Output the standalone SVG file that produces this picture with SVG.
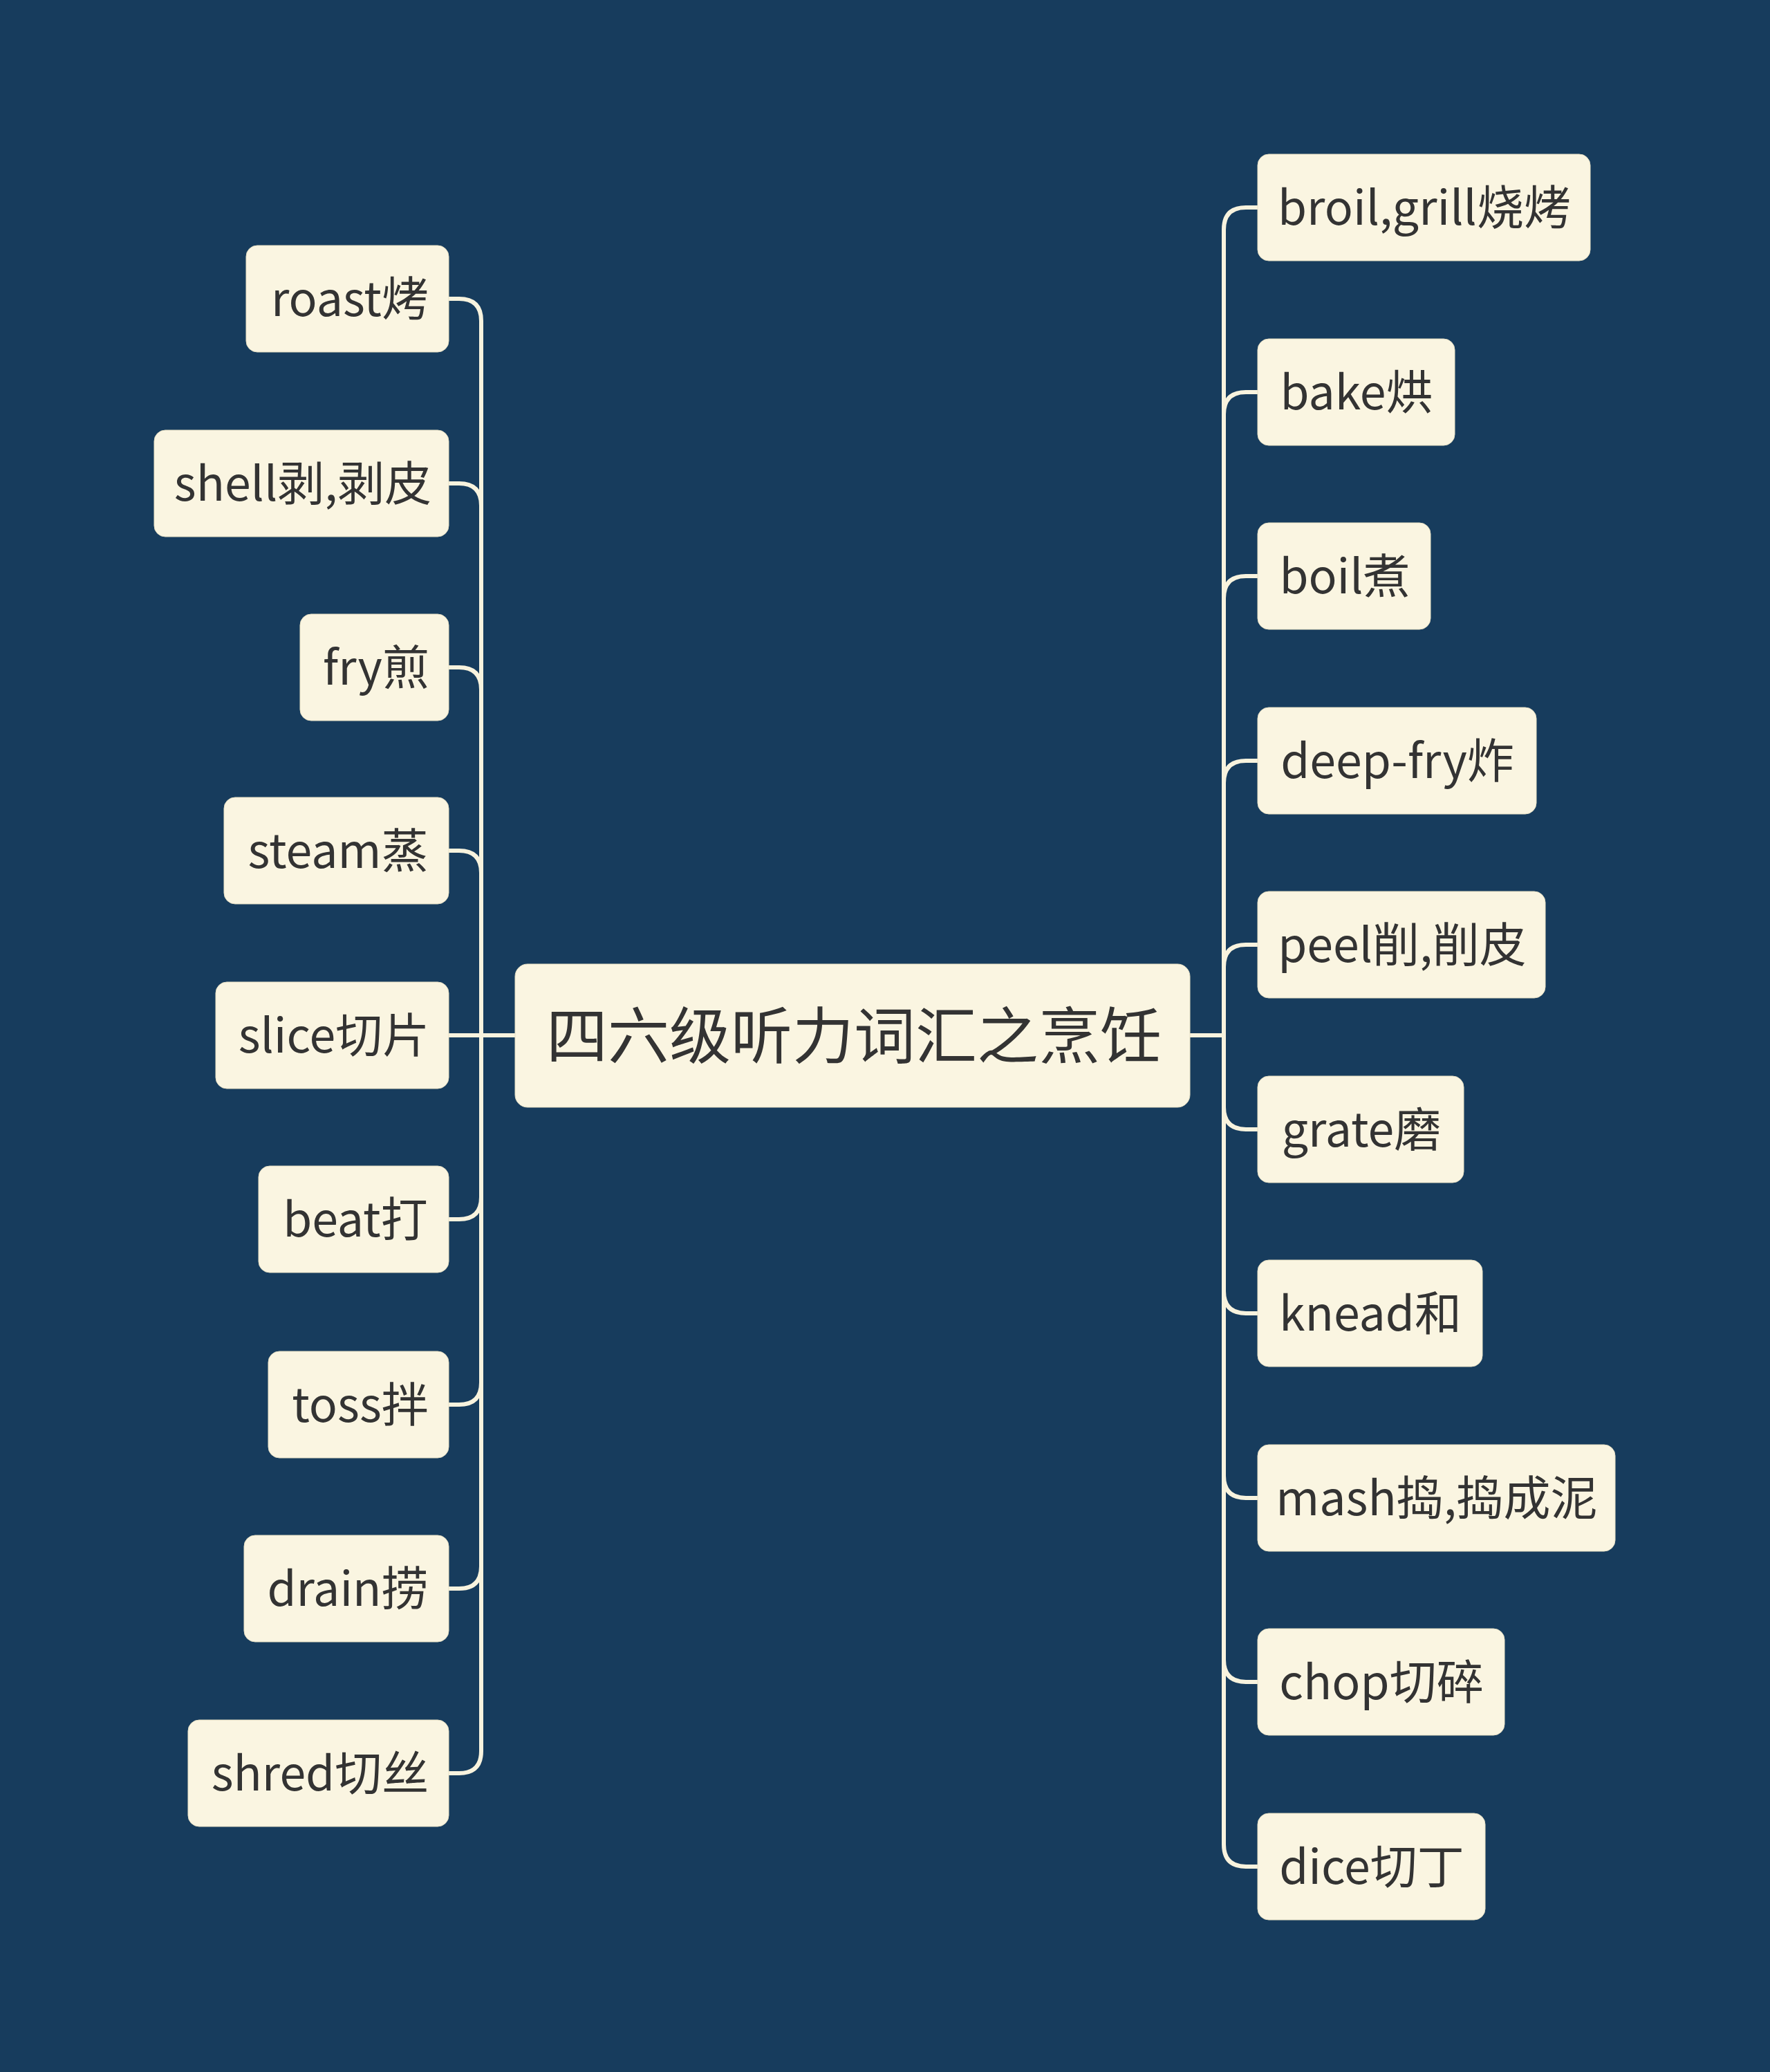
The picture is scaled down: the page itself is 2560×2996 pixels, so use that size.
<svg xmlns="http://www.w3.org/2000/svg" width="2560" height="2996" viewBox="0 0 2560 2996">
<style>
.bg{fill:#173c5d}
.box{fill:#faf5e1;stroke:#e9e2c6;stroke-width:1}
.t{font-family:"Noto Sans CJK SC","Noto Sans",sans-serif;fill:#333333;text-anchor:middle;dominant-baseline:central}
.c{font-size:68px}
.m{font-size:89px}
.ln{fill:none;stroke:#f8f3de;stroke-width:6;stroke-linejoin:round}
</style>
<rect class="bg" x="0" y="0" width="2560" height="2996"/>
<g id="connectors">
<path class="ln" d="M745,1497 H696 V464 Q696,432 664,432 H649"/>
<path class="ln" d="M745,1497 H696 V731 Q696,699 664,699 H649"/>
<path class="ln" d="M745,1497 H696 V997 Q696,965 664,965 H649"/>
<path class="ln" d="M745,1497 H696 V1262 Q696,1230 664,1230 H649"/>
<path class="ln" d="M745,1497 H649"/>
<path class="ln" d="M745,1497 H696 V1731 Q696,1763 664,1763 H649"/>
<path class="ln" d="M745,1497 H696 V1999 Q696,2031 664,2031 H649"/>
<path class="ln" d="M745,1497 H696 V2265 Q696,2297 664,2297 H649"/>
<path class="ln" d="M745,1497 H696 V2532 Q696,2564 664,2564 H649"/>
<path class="ln" d="M1720,1497 H1770 V332 Q1770,300 1802,300 H1819"/>
<path class="ln" d="M1720,1497 H1770 V599 Q1770,567 1802,567 H1819"/>
<path class="ln" d="M1720,1497 H1770 V865 Q1770,833 1802,833 H1819"/>
<path class="ln" d="M1720,1497 H1770 V1132 Q1770,1100 1802,1100 H1819"/>
<path class="ln" d="M1720,1497 H1770 V1398 Q1770,1366 1802,1366 H1819"/>
<path class="ln" d="M1720,1497 H1770 V1601 Q1770,1633 1802,1633 H1819"/>
<path class="ln" d="M1720,1497 H1770 V1867 Q1770,1899 1802,1899 H1819"/>
<path class="ln" d="M1720,1497 H1770 V2134 Q1770,2166 1802,2166 H1819"/>
<path class="ln" d="M1720,1497 H1770 V2400 Q1770,2432 1802,2432 H1819"/>
<path class="ln" d="M1720,1497 H1770 V2667 Q1770,2699 1802,2699 H1819"/>
</g>
<g id="root"><rect class="box" x="745" y="1394" width="976" height="207" rx="18"/><text class="t m" x="1235" y="1491">四六级听力词汇之烹饪</text></g>
<g id="n-roast"><rect class="box" x="356" y="355" width="293" height="154" rx="16"/><text class="t c" x="506" y="427">roast烤</text></g>
<g id="n-shell"><rect class="box" x="223" y="622" width="426" height="154" rx="16"/><text class="t c" x="438" y="694">shell剥,剥皮</text></g>
<g id="n-fry"><rect class="box" x="434" y="888" width="215" height="154" rx="16"/><text class="t c" x="544" y="960">fry煎</text></g>
<g id="n-steam"><rect class="box" x="324" y="1153" width="325" height="154" rx="16"/><text class="t c" x="489" y="1225">steam蒸</text></g>
<g id="n-slice"><rect class="box" x="312" y="1420" width="337" height="154" rx="16"/><text class="t c" x="483" y="1492">slice切片</text></g>
<g id="n-beat"><rect class="box" x="374" y="1686" width="275" height="154" rx="16"/><text class="t c" x="514" y="1758">beat打</text></g>
<g id="n-toss"><rect class="box" x="388" y="1954" width="261" height="154" rx="16"/><text class="t c" x="521" y="2026">toss拌</text></g>
<g id="n-drain"><rect class="box" x="353" y="2220" width="296" height="154" rx="16"/><text class="t c" x="503" y="2292">drain捞</text></g>
<g id="n-shred"><rect class="box" x="272" y="2487" width="377" height="154" rx="16"/><text class="t c" x="463" y="2559">shred切丝</text></g>
<g id="n-broil"><rect class="box" x="1819" y="223" width="481" height="154" rx="16"/><text class="t c" x="2060" y="295">broil,grill烧烤</text></g>
<g id="n-bake"><rect class="box" x="1819" y="490" width="285" height="154" rx="16"/><text class="t c" x="1962" y="562">bake烘</text></g>
<g id="n-boil"><rect class="box" x="1819" y="756" width="250" height="154" rx="16"/><text class="t c" x="1945" y="828">boil煮</text></g>
<g id="n-deepfry"><rect class="box" x="1819" y="1023" width="403" height="154" rx="16"/><text class="t c" x="2021" y="1095">deep-fry炸</text></g>
<g id="n-peel"><rect class="box" x="1819" y="1289" width="416" height="154" rx="16"/><text class="t c" x="2028" y="1361">peel削,削皮</text></g>
<g id="n-grate"><rect class="box" x="1819" y="1556" width="298" height="154" rx="16"/><text class="t c" x="1969" y="1628">grate磨</text></g>
<g id="n-knead"><rect class="box" x="1819" y="1822" width="325" height="154" rx="16"/><text class="t c" x="1982" y="1894">knead和</text></g>
<g id="n-mash"><rect class="box" x="1819" y="2089" width="517" height="154" rx="16"/><text class="t c" x="2078" y="2161">mash捣,捣成泥</text></g>
<g id="n-chop"><rect class="box" x="1819" y="2355" width="357" height="154" rx="16"/><text class="t c" x="1998" y="2427">chop切碎</text></g>
<g id="n-dice"><rect class="box" x="1819" y="2622" width="329" height="154" rx="16"/><text class="t c" x="1984" y="2694">dice切丁</text></g>
</svg>
